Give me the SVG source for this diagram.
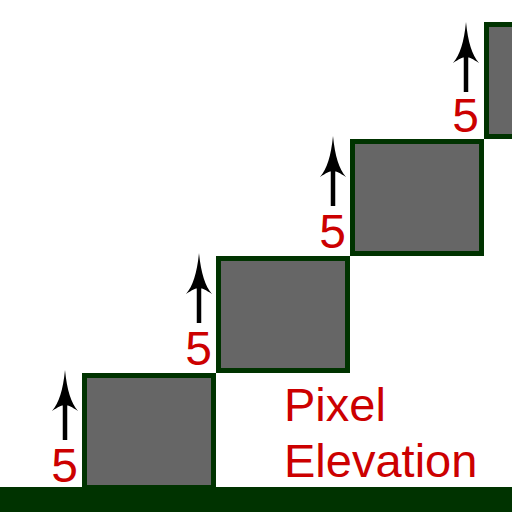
<svg xmlns="http://www.w3.org/2000/svg" width="512" height="512" viewBox="0 0 512 512">
<style>
.block{fill:#666666;stroke:#003300;stroke-width:5}
.num{font-family:"Liberation Sans",Arial,sans-serif;font-size:48px;fill:#cc0000;text-anchor:middle}
.label{font-family:"Liberation Sans",Arial,sans-serif;font-size:47px;fill:#cc0000}
.shaft{stroke:#000;stroke-width:4.5;fill:none}
</style>
<defs>
<g id="arrow">
<path class="shaft" d="M0,30 V70"/>
<path d="M0,0 C2,20 6,33 13,41 C7,37 3,35 0,35 C-3,35 -7,37 -13,41 C-6,33 -2,20 0,0 Z" fill="#000"/>
</g>
</defs>
<rect x="0" y="487" width="512" height="25" fill="#003300"/>
<g id="step1">
<rect class="block" x="84.5" y="375.5" width="129" height="112"/>
<use href="#arrow" x="65" y="370"/>
<text class="num" x="64.5" y="482">5</text>
</g>
<g id="step2">
<rect class="block" x="218.5" y="258.5" width="129" height="112"/>
<use href="#arrow" x="199" y="253"/>
<text class="num" x="198.5" y="365">5</text>
</g>
<g id="step3">
<rect class="block" x="352.5" y="141.5" width="129" height="112"/>
<use href="#arrow" x="333" y="136"/>
<text class="num" x="332.5" y="248">5</text>
</g>
<g id="step4">
<rect class="block" x="486.5" y="24.5" width="129" height="112"/>
<use href="#arrow" x="466" y="22"/>
<text class="num" x="465.5" y="132">5</text>
</g>
<g id="title">
<text class="label" x="284" y="421">Pixel</text>
<text class="label" x="284" y="477">Elevation</text>
</g>
</svg>
